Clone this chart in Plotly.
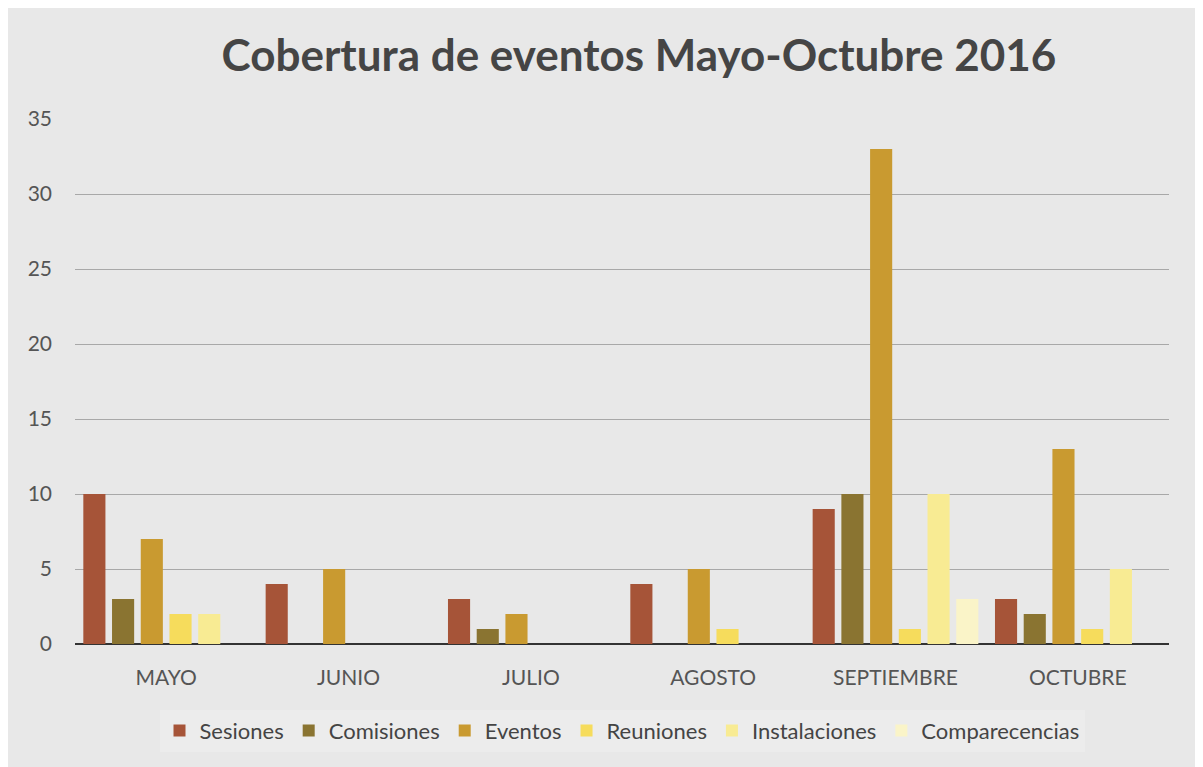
import plotly.graph_objects as go

categories = ["MAYO", "JUNIO", "JULIO", "AGOSTO", "SEPTIEMBRE", "OCTUBRE"]
sesiones = [10, 4, 3, 4, 9, 3]
comisiones = [3, 0, 1, 0, 10, 2]
eventos = [7, 5, 2, 5, 33, 13]
reuniones = [2, 0, 0, 1, 1, 1]
instalaciones = [2, 0, 0, 0, 10, 5]
comparecencias = [0, 0, 0, 0, 3, 0]

series = [
    ("Sesiones", sesiones, "#a65438"),
    ("Comisiones", comisiones, "#8a7431"),
    ("Eventos", eventos, "#c99a30"),
    ("Reuniones", reuniones, "#f6dc5c"),
    ("Instalaciones", instalaciones, "#f8eb93"),
    ("Comparecencias", comparecencias, "#faf4c8"),
]

fig = go.Figure()
for name, vals, col in series:
    fig.add_trace(go.Bar(x=categories, y=vals, name=name, marker_color=col,
                         marker_line_width=0))

font = "Lato, 'Open Sans', sans-serif"
fig.update_layout(
    width=1195, height=759,
    margin=dict(l=67, r=34, t=111, b=123),
    paper_bgcolor="#e8e8e8", plot_bgcolor="#e8e8e8",
    barmode="group", bargap=0.055, bargroupgap=0.23,
    title=dict(text="<b>Cobertura de eventos Mayo-Octubre 2016</b>",
               x=0.528, xanchor="center", y=0.9375, yanchor="middle",
               font=dict(family=font, size=44, color="#454545")),
    font=dict(family=font, size=21, color="#555555"),
    showlegend=True,
    legend=dict(orientation="h", x=0.5, xanchor="center", y=-0.165, yanchor="middle",
                font=dict(size=22, color="#444444"), bgcolor="#ececec",
                itemwidth=30, tracegroupgap=0),
    xaxis=dict(showgrid=False, ticks="", ticklabelstandoff=19,
               tickfont=dict(size=21, color="#555555"), showline=False),
    yaxis=dict(range=[0, 35], dtick=5, showgrid=True, gridcolor="#a8a8a8",
               gridwidth=1, zeroline=True, zerolinecolor="#333333", zerolinewidth=2,
               tickfont=dict(size=21, color="#555555"), ticklabelstandoff=22),
)

fig.write_html("out.html")
